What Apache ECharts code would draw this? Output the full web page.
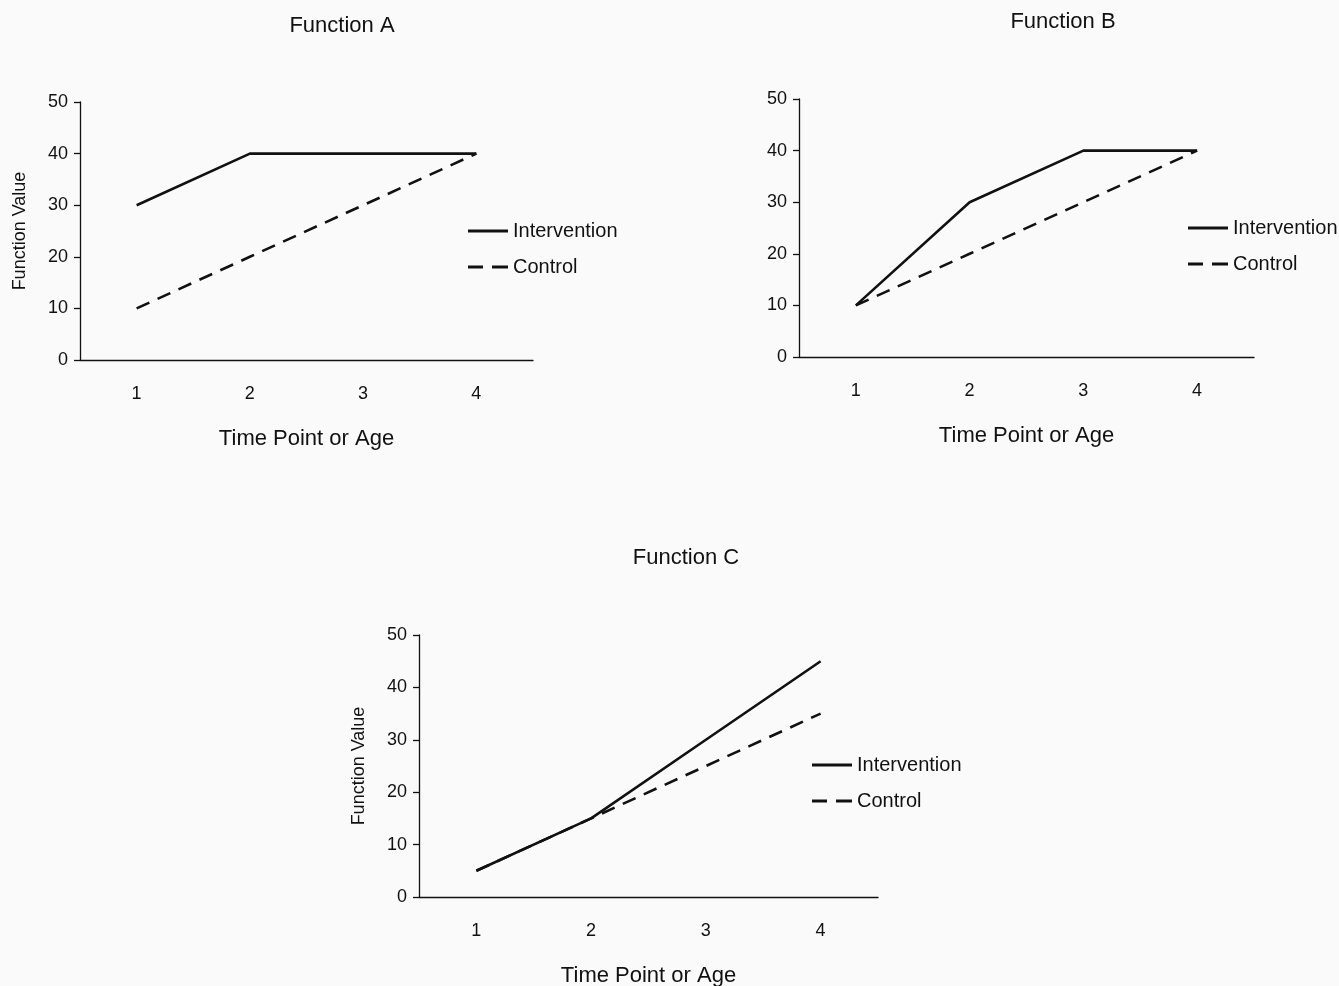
<!DOCTYPE html>
<html>
<head>
<meta charset="utf-8">
<script src="https://cdn.jsdelivr.net/npm/echarts@6/dist/echarts.min.js"></script>
<style>
  html, body { margin: 0; padding: 0; background: #fafafa; }
  #main { width: 1339px; height: 986px; }
</style>
</head>
<body>
<div id="main"></div>
<script>
// time points shared by all three panels
const timePoints = ['1', '2', '3', '4']

// Function A
const interventionA = [30, 40, 40, 40]
const controlA = [10, 20, 30, 40]
// Function B
const interventionB = [10, 30, 40, 40]
const controlB = [10, 20, 30, 40]
// Function C
const interventionC = [5, 15, 30, 45]
const controlC = [5, 15, 25, 35]

const font = 'Liberation Sans, Arial, sans-serif'
const ink = '#111'

const myChart = echarts.init(document.getElementById('main'))

// one panel = grid + x axis + y axis
const grids = [
    {left: 80, top: 102, width: 453, height: 258, outerBoundsMode: 'none'},
    {left: 799, top: 99, width: 455, height: 258, outerBoundsMode: 'none'},
    {left: 419, top: 635, width: 459, height: 262, outerBoundsMode: 'none'},
]
const yNames = ['Function Value', '', 'Function Value']

const xAxis = grids.map((g, i) => ({
    type: 'category',
    gridIndex: i,
    data: timePoints,
    boundaryGap: true,
    name: 'Time Point or Age',
    nameLocation: 'middle',
    nameGap: 68,
    nameTextStyle: {fontFamily: font, fontSize: 22, color: ink},
    axisLine: {lineStyle: {color: ink, width: 1.3}},
    axisTick: {length: 6, lineStyle: {color: ink, width: 1.3}},
    axisLabel: {fontFamily: font, fontSize: 18, color: ink, margin: 25},
}))

const yAxis = grids.map((g, i) => ({
    type: 'value',
    gridIndex: i,
    min: 0,
    max: 50,
    interval: 10,
    name: yNames[i],
    nameLocation: 'middle',
    nameGap: 51,
    nameMoveOverlap: false,
    nameTextStyle: {fontFamily: font, fontSize: 18, color: ink},
    axisLine: {show: true, lineStyle: {color: ink, width: 1.3}},
    axisTick: {show: true, length: 6, lineStyle: {color: ink, width: 1.3}},
    axisLabel: {fontFamily: font, fontSize: 18, color: ink, margin: 12},
    splitLine: {show: false},
}))

const panels = [
    [interventionA, controlA],
    [interventionB, controlB],
    [interventionC, controlC],
]

const series = []
panels.forEach((p, i) => {
    series.push({
        name: 'Intervention',
        type: 'line',
        xAxisIndex: i,
        yAxisIndex: i,
        data: p[0],
        symbol: 'none',
        color: ink,
        lineStyle: {color: ink, width: 2.6, type: 'solid'},
        z: 3,
    })
    series.push({
        name: 'Control',
        type: 'line',
        xAxisIndex: i,
        yAxisIndex: i,
        data: p[1],
        symbol: 'none',
        color: ink,
        lineStyle: {color: ink, width: 2.6, type: [14, 9]},
        z: 2,
    })
})

// legend icons drawn as filled paths: one solid bar, two dashes
const solidIcon = 'path://M0,0H40V3H0Z'
const dashIcon = 'path://M0,0H15V3H0Z M24,0H40V3H24Z'

const legendPos = [
    {left: 468, top: 220},
    {left: 1188, top: 217},
    {left: 812, top: 754},
]
const legend = legendPos.map(p => ({
    left: p.left,
    top: p.top,
    padding: 0,
    orient: 'vertical',
    itemGap: 14,
    itemWidth: 40,
    itemHeight: 3,
    selectedMode: false,
    data: [
        {name: 'Intervention', icon: solidIcon, itemStyle: {color: ink}},
        {name: 'Control', icon: dashIcon, itemStyle: {color: ink}},
    ],
    textStyle: {fontFamily: font, fontSize: 20, color: ink, lineHeight: 22},
}))

const titles = [
    {text: 'Function A', x: 337, y: 10},
    {text: 'Function B', x: 1058, y: 6},
    {text: 'Function C', x: 681, y: 542},
]

const option = {
    backgroundColor: '#fafafa',
    animation: false,
    title: titles.map(t => ({
        text: t.text,
        left: t.x,
        top: t.y,
        textAlign: 'center',
        textStyle: {fontFamily: font, fontSize: 22, fontWeight: 'normal', color: ink},
    })),
    legend: legend,
    grid: grids,
    xAxis: xAxis,
    yAxis: yAxis,
    series: series,
}
myChart.setOption(option)
</script>
</body>
</html>
